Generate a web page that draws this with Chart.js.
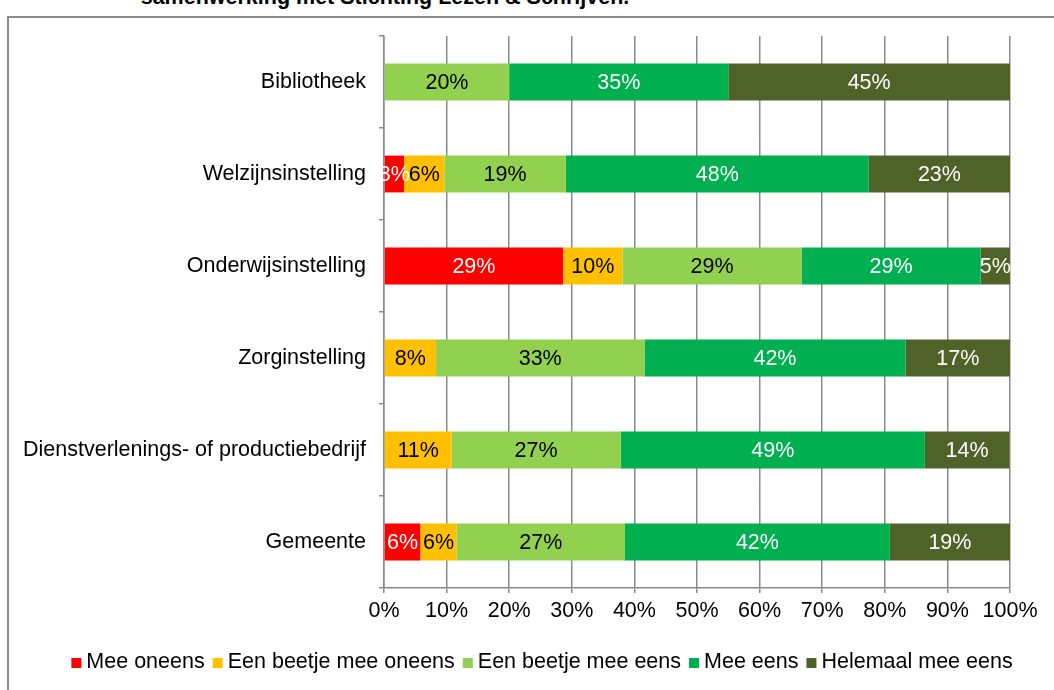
<!DOCTYPE html>
<html lang="nl">
<head>
    <meta charset="UTF-8">
    <title>Samenwerking met Stichting Lezen & Schrijven</title>
    <script src="https://cdn.jsdelivr.net/npm/chart.js"></script>
    <style>
        html, body { margin: 0; padding: 0; background: #fff; overflow: hidden; }
        body { width: 1054px; height: 690px; position: relative; font-family: "Liberation Sans", Arial, sans-serif; }
        .frame {
            position: absolute; left: 7px; top: 16px; width: 1200px; height: 800px;
            border: 2px solid #8a8a8a; box-sizing: border-box;
        }
        .title {
            position: absolute; left: 0; width: 770px; top: -13px;
            text-align: center; font-weight: bold; font-size: 21.5px; line-height: 21.5px;
            white-space: nowrap;
        }
        .chart-box { position: absolute; left: 0; top: 0; width: 1054px; height: 690px; }
    </style>
</head>
<body>
    <div class="title">samenwerking met Stichting Lezen &amp; Schrijven.</div>
    <div class="frame"></div>
    <div class="chart-box"><canvas id="chart"></canvas></div>

    <script>
        // categories (top to bottom)
        const categories = ['Bibliotheek', 'Welzijnsinstelling', 'Onderwijsinstelling', 'Zorginstelling',
                            'Dienstverlenings- of productiebedrijf', 'Gemeente'];

        // percentages per answer
        const meeOneens       = [0, 3.2, 28.6, 0, 0, 5.8];
        const beetjeOneens    = [0, 6.45, 9.5, 8.3, 10.8, 5.8];
        const beetjeEens      = [20, 19.4, 28.6, 33.3, 27.0, 26.9];
        const meeEens         = [35, 48.4, 28.6, 41.7, 48.6, 42.3];
        const helemaalMeeEens = [45, 22.55, 4.7, 16.7, 13.5, 19.2];

        const xTicks = [0, 10, 20, 30, 40, 50, 60, 70, 80, 90, 100];

        const FONT = '"Liberation Sans", Arial, sans-serif';
        const FONT_SIZE = 21.5;
        const GRID = '#8a8a8a';

        const series = [
            { label: 'Mee oneens', data: meeOneens, color: '#ff0000', text: '#fff' },
            { label: 'Een beetje mee oneens', data: beetjeOneens, color: '#ffc000', text: '#000' },
            { label: 'Een beetje mee eens', data: beetjeEens, color: '#92d050', text: '#000' },
            { label: 'Mee eens', data: meeEens, color: '#00b050', text: '#fff' },
            { label: 'Helemaal mee eens', data: helemaalMeeEens, color: '#4f6228', text: '#fff' }
        ];

        // percentage labels inside the bars
        const barLabels = {
            id: 'barLabels',
            afterDatasetsDraw(chart) {
                const ctx = chart.ctx;
                ctx.save();
                ctx.font = FONT_SIZE + 'px ' + FONT;
                ctx.textAlign = 'center';
                ctx.textBaseline = 'middle';
                chart.data.datasets.forEach((ds, i) => {
                    const meta = chart.getDatasetMeta(i);
                    meta.data.forEach((bar, j) => {
                        const v = ds.data[j];
                        if (!v) return;
                        ctx.fillStyle = series[i].text;
                        ctx.fillText(Math.round(v) + '%', (bar.x + bar.base) / 2, bar.y + 1);
                    });
                });
                ctx.restore();
            }
        };

        // compact legend below the chart (small square, tight gaps)
        const bottomLegend = {
            id: 'bottomLegend',
            afterDraw(chart) {
                const ctx = chart.ctx;
                const box = 10, gap = 5, itemGap = 8;
                ctx.save();
                ctx.font = FONT_SIZE + 'px ' + FONT;
                ctx.textBaseline = 'middle';
                const widths = series.map(s => box + gap + ctx.measureText(s.label).width);
                const total = widths.reduce((a, b) => a + b, 0) + itemGap * (series.length - 1);
                let x = 542 - total / 2;
                const y = 662;
                series.forEach((s, i) => {
                    ctx.fillStyle = s.color;
                    ctx.fillRect(x, y - box / 2 + 1, box, box);
                    ctx.fillStyle = '#000';
                    ctx.fillText(s.label, x + box + gap, y);
                    x += widths[i] + itemGap;
                });
                ctx.restore();
            }
        };

        new Chart(document.getElementById('chart'), {
            type: 'bar',
            data: {
                labels: categories,
                datasets: series.map(s => ({
                    label: s.label,
                    data: s.data,
                    backgroundColor: s.color,
                    borderWidth: 0,
                    categoryPercentage: 1,
                    barPercentage: 0.4
                }))
            },
            options: {
                indexAxis: 'y',
                responsive: true,
                maintainAspectRatio: false,
                animation: false,
                layout: { padding: { left: 0, right: 44, top: 36, bottom: 58 } },
                scales: {
                    x: {
                        stacked: true,
                        min: 0,
                        max: 100,
                        afterBuildTicks: axis => { axis.ticks = xTicks.map(v => ({ value: v })); },
                        afterFit: axis => { axis.height = 44; },
                        ticks: {
                            color: '#000',
                            font: { family: FONT, size: FONT_SIZE },
                            padding: 5,
                            maxRotation: 0,
                            callback: v => v + '%'
                        },
                        grid: { color: GRID, lineWidth: 1.5, tickLength: 5 },
                        border: { color: GRID, width: 1.5 }
                    },
                    y: {
                        stacked: true,
                        afterFit: axis => { axis.width = 384; },
                        ticks: {
                            color: '#000',
                            font: { family: FONT, size: FONT_SIZE },
                            padding: 13
                        },
                        grid: { drawOnChartArea: false, color: GRID, lineWidth: 1.5, tickLength: 5 },
                        border: { color: GRID, width: 1.5 }
                    }
                },
                plugins: {
                    legend: { display: false },
                    tooltip: { enabled: false }
                }
            },
            plugins: [barLabels, bottomLegend]
        });
    </script>
</body>
</html>
